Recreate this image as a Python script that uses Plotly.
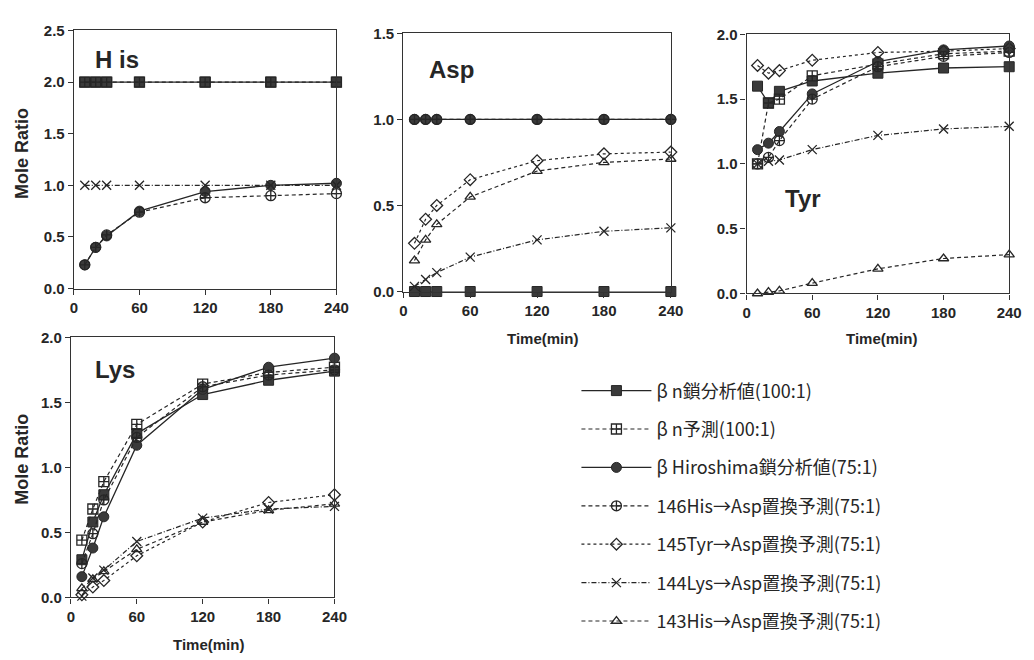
import plotly.graph_objects as go

# ---------------- data ----------------
times = [10, 20, 30, 60, 120, 180, 240]

series_names = [
    "β n鎖分析値(100:1)",
    "β n予測(100:1)",
    "β Hiroshima鎖分析値(75:1)",
    "146His→Asp置換予測(75:1)",
    "145Tyr→Asp置換予測(75:1)",
    "144Lys→Asp置換予測(75:1)",
    "143His→Asp置換予測(75:1)",
]

# values per panel, one list per series (None = not shown in that panel)
his_values = [
    [2.0, 2.0, 2.0, 2.0, 2.0, 2.0, 2.0],
    [2.0, 2.0, 2.0, 2.0, 2.0, 2.0, 2.0],
    [0.23, 0.40, 0.51, 0.75, 0.94, 1.00, 1.02],
    [0.23, 0.40, 0.52, 0.74, 0.88, 0.90, 0.92],
    None,
    [1.0, 1.0, 1.0, 1.0, 1.0, 1.0, 1.0],
    None,
]
asp_values = [
    [0.0, 0.0, 0.0, 0.0, 0.0, 0.0, 0.0],
    None,
    [1.0, 1.0, 1.0, 1.0, 1.0, 1.0, 1.0],
    [1.0, 1.0, 1.0, 1.0, 1.0, 1.0, 1.0],
    [0.28, 0.42, 0.50, 0.65, 0.76, 0.80, 0.81],
    [0.03, 0.07, 0.11, 0.20, 0.30, 0.35, 0.37],
    [0.18, 0.30, 0.39, 0.55, 0.70, 0.75, 0.77],
]
tyr_values = [
    [1.60, 1.47, 1.56, 1.64, 1.70, 1.74, 1.75],
    [1.00, 1.47, 1.50, 1.68, 1.77, 1.85, 1.87],
    [1.11, 1.16, 1.25, 1.54, 1.79, 1.88, 1.91],
    [1.00, 1.05, 1.18, 1.50, 1.75, 1.83, 1.86],
    [1.76, 1.70, 1.72, 1.80, 1.86, 1.87, 1.89],
    [1.00, 1.02, 1.03, 1.11, 1.22, 1.27, 1.29],
    [0.0, 0.01, 0.02, 0.08, 0.19, 0.27, 0.30],
]
lys_values = [
    [0.29, 0.58, 0.79, 1.26, 1.56, 1.67, 1.74],
    [0.44, 0.68, 0.89, 1.33, 1.64, 1.73, 1.77],
    [0.16, 0.38, 0.62, 1.17, 1.60, 1.77, 1.84],
    [0.26, 0.49, 0.75, 1.23, 1.62, 1.71, 1.75],
    [0.02, 0.08, 0.13, 0.32, 0.58, 0.73, 0.79],
    [0.01, 0.15, 0.21, 0.43, 0.61, 0.68, 0.70],
    [0.07, 0.14, 0.20, 0.37, 0.58, 0.67, 0.72],
]

panel_labels = ["H is", "Asp", "Tyr", "Lys"]
x_ticks = [0, 60, 120, 180, 240]

# ---------------- styles ----------------
INK = "#262626"
MFILL = "#3a3a3a"
styles = [
    dict(dash="solid", symbol="square", size=10, lw=1.3),
    dict(dash="4px,3px", symbol="square-cross-open", size=10, lw=1.2),
    dict(dash="solid", symbol="circle", size=10, lw=1.3),
    dict(dash="4px,3px", symbol="circle-cross-open", size=10, lw=1.2),
    dict(dash="3px,3px", symbol="diamond-open", size=9, lw=1.2),
    dict(dash="5px,2px,1px,2px", symbol="x-thin-open", size=9, lw=1.2),
    dict(dash="4px,3px", symbol="triangle-up-open", size=9, lw=1.2),
]

W, H = 1034, 660

def px_x(a, b):
    return [a / W, b / W]

def px_y(top, bottom):
    return [1 - bottom / H, 1 - top / H]

panels = [
    dict(vals=his_values, x=px_x(71, 338), y=px_y(22, 287), yr=2.5, legend=False),
    dict(vals=asp_values, x=px_x(406, 678), y=px_y(25, 290), yr=1.5, legend=False),
    dict(vals=tyr_values, x=px_x(755, 1022), y=px_y(26, 292), yr=2.0, legend=False),
    dict(vals=lys_values, x=px_x(68, 336), y=px_y(337, 604), yr=2.0, legend=True),
]

fig = go.Figure()
tick_font = dict(family="Liberation Sans, Arial, sans-serif", size=15, color=INK, weight="bold")

for i, p in enumerate(panels):
    suffix = "" if i == 0 else str(i + 1)
    for k, vals in enumerate(p["vals"]):
        if vals is None:
            continue
        st = styles[k]
        is_open = st["symbol"].endswith("open")
        fig.add_trace(go.Scatter(
            x=times, y=vals, mode="lines+markers",
            name=series_names[k],
            legendgroup=f"g{k}", legendrank=k + 1,
            showlegend=p["legend"],
            line=dict(color=INK, width=st["lw"], dash=st["dash"]),
            marker=dict(symbol=st["symbol"], size=st["size"],
                        color=INK if is_open else MFILL,
                        line=dict(color=INK, width=1.3 if is_open else 1)),
            cliponaxis=False,
            xaxis="x" + suffix, yaxis="y" + suffix,
        ))
    common = dict(showline=True, mirror=True, linecolor="#333", linewidth=1.2,
                  ticks="outside", ticklen=5, tickwidth=1.2, tickcolor="#333",
                  showgrid=False, zeroline=False, tickfont=tick_font)
    fig.layout["xaxis" + suffix] = dict(domain=p["x"], range=[0, 240], tickvals=x_ticks,
                                         anchor="y" + suffix, **common)
    fig.layout["yaxis" + suffix] = dict(domain=p["y"], range=[0, p["yr"]], dtick=0.5,
                                         tickformat=".1f", anchor="x" + suffix, **common)

title_font = dict(family="Liberation Sans, Arial, sans-serif", size=15, color=INK, weight="bold")
ytitle_font = dict(family="Liberation Sans, Arial, sans-serif", size=18, color=INK, weight="bold")
label_font = dict(family="Liberation Sans, Arial, sans-serif", size=24, color=INK, weight="bold")

annotations = []
# panel labels
for text, (cx, cy) in zip(panel_labels, [(115, 52), (455, 62), (812, 195), (113, 370)]):
    annotations.append(dict(text=text, x=cx / W, y=1 - cy / H, xref="paper", yref="paper",
                            showarrow=False, font=label_font, xanchor="center", yanchor="middle"))
# axis titles
for cy in (148, 462):
    annotations.append(dict(text="Mole Ratio", x=18 / W, y=1 - cy / H, xref="paper", yref="paper",
                            showarrow=False, font=ytitle_font, textangle=-90,
                            xanchor="center", yanchor="middle"))
for cx, cy in ((548, 338), (892, 338), (208, 652)):
    annotations.append(dict(text="Time(min)", x=cx / W, y=1 - cy / H, xref="paper", yref="paper",
                            showarrow=False, font=title_font, xanchor="center", yanchor="middle"))

fig.update_layout(
    width=W, height=H,
    margin=dict(l=0, r=0, t=0, b=0),
    paper_bgcolor="white", plot_bgcolor="white",
    annotations=annotations,
    showlegend=True,
    legend=dict(x=582 / W, y=1 - 373 / H, xanchor="left", yanchor="top",
                font=dict(family="Noto Sans CJK JP, sans-serif", size=18, color=INK),
                tracegroupgap=12, itemwidth=70, bgcolor="rgba(0,0,0,0)",
                traceorder="grouped"),
)

fig.write_html("out.html")
